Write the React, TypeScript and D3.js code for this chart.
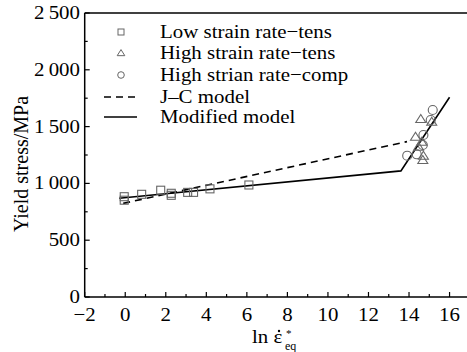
import React from "react";
import * as d3 from "d3";

const lowX = [-0.05, -0.05, 0.81, 1.75, 2.27, 2.27, 3.08, 3.37, 4.18, 6.1];
const lowY = [883, 852, 904, 940, 913, 895, 921, 921, 952, 986];
const triX = [14.58, 15.12, 14.32, 14.63, 14.47, 14.71, 14.68];
const triY = [1567, 1543, 1411, 1367, 1323, 1244, 1206];
const cirX = [15.17, 15.07, 14.71, 14.68, 13.91, 14.38];
const cirY = [1646, 1558, 1426, 1338, 1244, 1256];
const jcX = [-0.1, 13.9];
const jcY = [824, 1368];
const modX = [-0.3, 13.6, 16.0];
const modY = [869, 1110, 1758];
const xTicks = [-2, 0, 2, 4, 6, 8, 10, 12, 14, 16];
const yTicks = [0, 500, 1000, 1500, 2000, 2500];
const legendLabels = [
  "Low strain rate\u2212tens",
  "High strain rate\u2212tens",
  "High strian rate\u2212comp",
  "J\u2013C model",
  "Modified model",
];

const FONT = "Liberation Serif";
const ts: React.CSSProperties = { fontFamily: FONT };
const SX = 1.1;

function fmtY(v: number) {
  const s = String(v);
  return s.length === 4 ? s[0] + "\u2009" + s.slice(1) : s;
}

function T(props: { x: number; y: number; size: number; anchor?: string; children: React.ReactNode }) {
  return (
    <text
      transform={`translate(${props.x},${props.y}) scale(${SX},1)`}
      fontSize={props.size}
      textAnchor={props.anchor || "start"}
      style={ts}
    >
      {props.children}
    </text>
  );
}

export default function App() {
  const W = 467, H = 352;
  const x = d3.scaleLinear().domain([-2, 17]).range([84.7, 84.7 + 19 * 20.27]);
  const y = d3.scaleLinear().domain([0, 2500]).range([297, 13]);
  const line = d3.line<[number, number]>().x((d) => x(d[0])).y((d) => y(d[1]));
  const jc = line(jcX.map((v, i) => [v, jcY[i]] as [number, number]))!;
  const mod = line(modX.map((v, i) => [v, modY[i]] as [number, number]))!;
  const mStroke = "#666";
  const tri = (cx: number, cy: number, s: number) =>
    `M${cx},${cy - s * 0.9}L${cx + s},${cy + s * 0.7}L${cx - s},${cy + s * 0.7}Z`;
  const x0 = x(-2), xr = W, yb = y(0), yt = y(2500);
  const minorX = d3.range(-1, 17, 2);
  const minorY = d3.range(250, 2500, 500);
  const legRows = [32, 53, 75, 97, 117];
  return (
    <svg width={W} height={H} style={{ position: "absolute", left: 0, top: 0, background: "#fff" }}>
      <line x1={x0} y1={yt} x2={xr} y2={yt} stroke="#000" strokeWidth={1.5} />
      <line x1={x0} y1={yt} x2={x0} y2={yb} stroke="#000" strokeWidth={1.5} />
      <line x1={x0} y1={yb} x2={xr} y2={yb} stroke="#000" strokeWidth={1.5} />
      {xTicks.map((t) => (
        <g key={"xt" + t}>
          <line x1={x(t)} x2={x(t)} y1={yb} y2={yb - 5} stroke="#000" strokeWidth={1.2} />
          <T x={x(t)} y={321} size={19} anchor="middle">{t < 0 ? "\u2212" + Math.abs(t) : t}</T>
        </g>
      ))}
      {minorX.map((t) => (
        <line key={"xm" + t} x1={x(t)} x2={x(t)} y1={yb} y2={yb - 3} stroke="#000" strokeWidth={1.2} />
      ))}
      {yTicks.map((t) => (
        <g key={"yt" + t}>
          <line x1={x0} x2={x0 + 5} y1={y(t)} y2={y(t)} stroke="#000" strokeWidth={1.2} />
          <T x={80} y={y(t) + 6} size={19} anchor="end">{fmtY(t)}</T>
        </g>
      ))}
      {minorY.map((t) => (
        <line key={"ym" + t} x1={x0} x2={x0 + 3} y1={y(t)} y2={y(t)} stroke="#000" strokeWidth={1.2} />
      ))}
      <text transform="translate(28,164) rotate(-90)" fontSize={20} textAnchor="middle" style={ts}>Yield stress/MPa</text>
      <T x={252} y={343} size={19}>ln {"\u03B5"}</T>
      <circle cx={279} cy={331} r={1.2} fill="#000" />
      <text x={286} y={337} fontSize={11} style={ts}>*</text>
      <text x={285} y={350} fontSize={12} style={ts}>eq</text>
      <path d={jc} fill="none" stroke="#000" strokeWidth={1.6} strokeDasharray="7,5" />
      <path d={mod} fill="none" stroke="#000" strokeWidth={1.6} />
      {lowX.map((v, i) => (
        <rect key={"s" + i} x={x(v) - 4} y={y(lowY[i]) - 4} width={8} height={8} fill="none" stroke={mStroke} strokeWidth={1.1} />
      ))}
      {triX.map((v, i) => (
        <path key={"t" + i} d={tri(x(v), y(triY[i]), 5)} fill="none" stroke={mStroke} strokeWidth={1.1} />
      ))}
      {cirX.map((v, i) => (
        <circle key={"c" + i} cx={x(v)} cy={y(cirY[i])} r={4.5} fill="none" stroke={mStroke} strokeWidth={1.1} />
      ))}
      <rect x={118} y={legRows[0] - 3} width={6} height={6} fill="none" stroke={mStroke} strokeWidth={1} />
      <path d={tri(121, legRows[1], 3.8)} fill="none" stroke={mStroke} strokeWidth={1} />
      <circle cx={121} cy={legRows[2]} r={3.3} fill="none" stroke={mStroke} strokeWidth={1} />
      <line x1={104} x2={137} y1={legRows[3]} y2={legRows[3]} stroke="#000" strokeWidth={1.6} strokeDasharray="7,5" />
      <line x1={104} x2={137} y1={legRows[4]} y2={legRows[4]} stroke="#000" strokeWidth={1.6} />
      {legendLabels.map((l, i) => (
        <T key={l} x={160} y={legRows[i] + 6} size={19}>{l}</T>
      ))}
    </svg>
  );
}
